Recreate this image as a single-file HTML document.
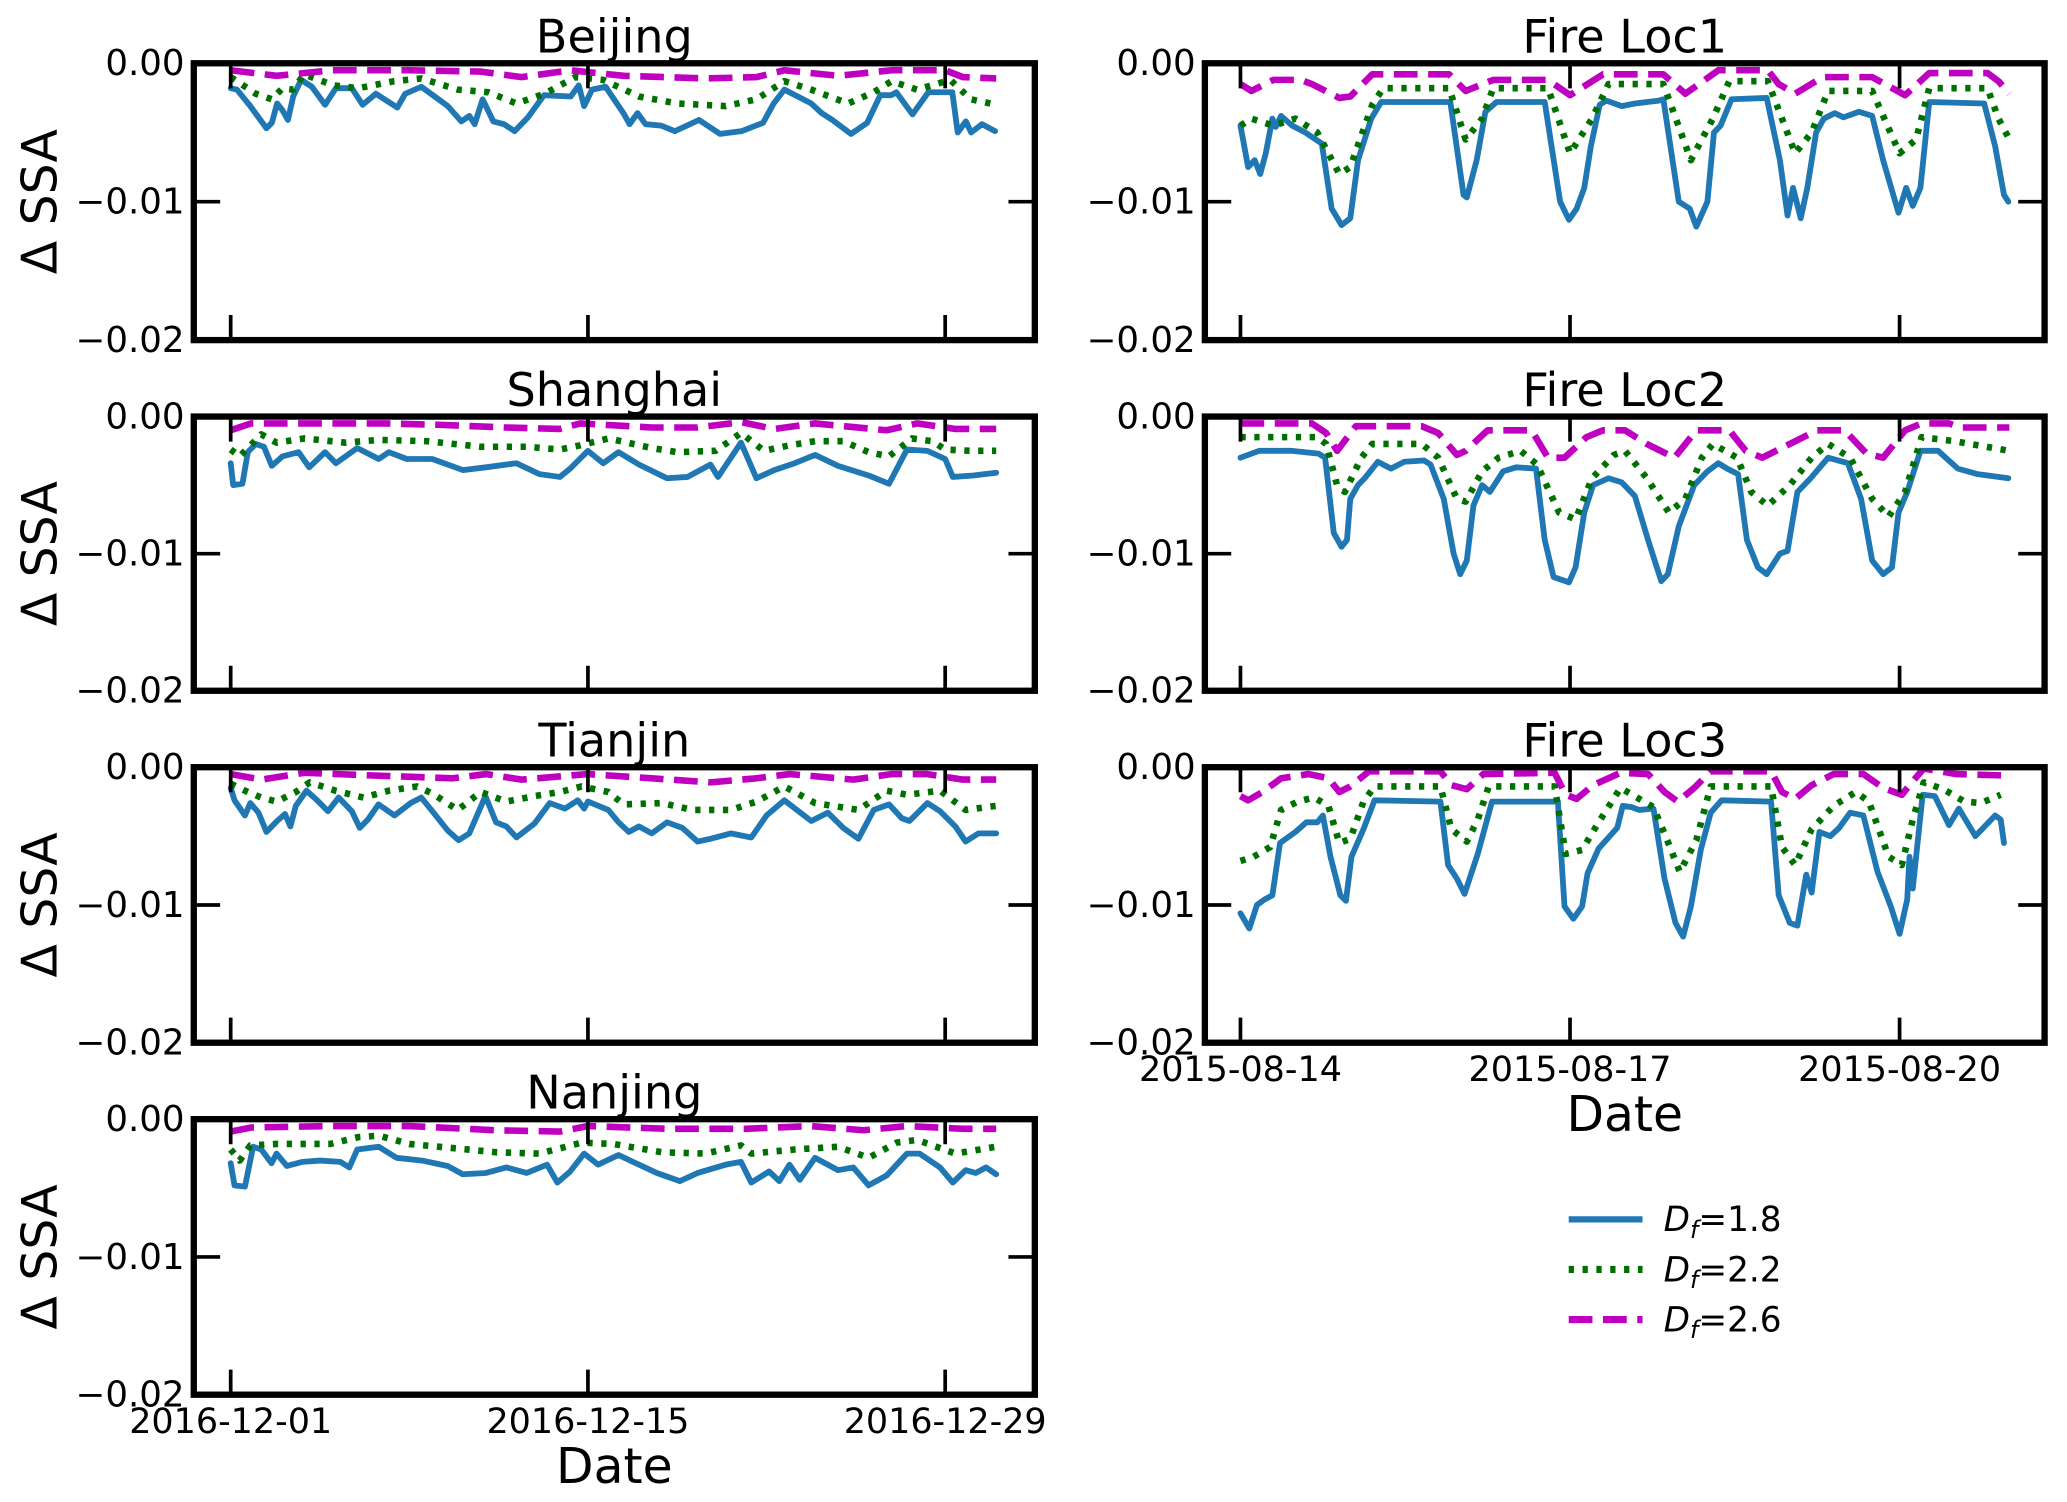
<!DOCTYPE html>
<html><head><meta charset="utf-8"><style>
html,body{margin:0;padding:0;background:#fff;}
svg{display:block;}
text{font-family:"DejaVu Sans","Liberation Sans",sans-serif;fill:#000;}
</style></head><body>
<svg id="fig" width="2067" height="1502" viewBox="0 0 1568 1139.4" preserveAspectRatio="none" xmlns="http://www.w3.org/2000/svg">
<rect width="1568" height="1139.4" fill="#fff"/>
</svg>
<script>
// ---- data (values in units of 1e-3 SSA; times in days from first tick) ----
const cityTicks = ["2016-12-01","2016-12-15","2016-12-29"];
const cityTickDays = [0,14,28];
const fireTicks = ["2015-08-14","2015-08-17","2015-08-20"];
const fireTickDays = [0,3,6];
const yTickLabels = ["0.00","\u22120.01","\u22120.02"];
const yTickValues = [0,-10,-20];
const seriesNames = ["D_f=1.8","D_f=2.2","D_f=2.6"];

const bjBlueT=[0,0.25,0.77,1.4,1.61,1.82,2.03,2.24,2.45,2.76,3.18,3.7,4.12,4.75,5.17,5.69,6.53,6.84,7.47,8.51,9.04,9.35,9.56,9.87,10.29,10.71,11.13,11.65,12.28,13.33,13.64,13.85,14.16,14.69,15.42,15.63,15.94,16.26,16.88,17.41,18.35,19.18,20.02,20.86,21.28,21.7,22.75,23.16,23.58,24.31,24.94,25.46,25.88,26.09,26.72,27.34,28.28,28.49,28.81,29.02,29.44,29.96];
const bjBlueV=[-1.8,-1.9,-3.1,-4.7,-4.3,-2.9,-3.4,-4.1,-2.4,-1.2,-1.7,-3.0,-1.8,-1.8,-3.0,-2.2,-3.2,-2.2,-1.7,-3.1,-4.2,-3.8,-4.4,-2.6,-4.2,-4.4,-4.9,-3.9,-2.3,-2.4,-1.6,-3.1,-1.9,-1.7,-3.7,-4.4,-3.6,-4.4,-4.5,-4.9,-4.1,-5.1,-4.9,-4.3,-2.9,-1.9,-2.9,-3.6,-4.1,-5.1,-4.3,-2.3,-2.3,-2.1,-3.7,-2.1,-2.1,-5.0,-4.2,-5.0,-4.4,-4.9];
const bjGreenT=[0,0.98,1.61,2.03,2.45,2.87,4.04,5.0,6.4,7.47,8.9,10.1,11.2,12.3,13.5,14.6,16.0,17.5,19.4,20.6,21.7,22.75,24.2,25.2,25.9,26.9,28.2,29.0,30.0];
const bjGreenV=[-1.0,-2.2,-2.6,-1.8,-1.9,-0.8,-1.6,-1.8,-1.3,-1.1,-1.9,-2.1,-2.9,-2.2,-1.0,-1.2,-2.4,-2.9,-3.1,-2.6,-1.3,-1.9,-2.9,-2.1,-1.3,-1.9,-1.2,-2.6,-3.0];
const bjMagT=[0,1.8,4.0,7.0,9.8,11.4,13.3,15.4,18.6,20.6,21.7,23.8,25.9,28.0,28.7,30.0];
const bjMagV=[-0.5,-0.9,-0.5,-0.5,-0.6,-1.0,-0.5,-0.9,-1.1,-1.0,-0.5,-0.9,-0.5,-0.5,-1.0,-1.1];

const shBlueT=[0,0.1,0.46,0.67,0.98,1.3,1.61,2.03,2.66,3.08,3.7,4.12,4.96,5.8,6.2,6.9,7.9,9.1,10.0,11.2,12.1,12.9,13.3,14.0,14.6,15.2,16.0,17.1,17.9,18.8,19.1,20.0,20.6,21.3,22.1,22.9,23.8,25.0,25.8,26.5,27.3,28.0,28.3,29.1,30.0];
const shBlueV=[-3.4,-5.0,-4.9,-2.6,-2.0,-2.2,-3.6,-2.9,-2.6,-3.7,-2.6,-3.4,-2.3,-3.1,-2.6,-3.1,-3.1,-3.9,-3.7,-3.4,-4.2,-4.4,-3.8,-2.5,-3.4,-2.6,-3.5,-4.5,-4.4,-3.5,-4.4,-1.9,-4.5,-3.9,-3.4,-2.8,-3.6,-4.3,-4.9,-2.4,-2.5,-3.1,-4.4,-4.3,-4.1];
const shGreenT=[0,0.35,1.2,1.8,2.9,4.5,5.8,7.7,9.8,11.6,12.9,13.7,14.8,16.5,17.5,19.0,20.0,20.9,21.9,22.9,24.0,25.0,25.8,26.7,27.5,28.0,29.0,30.0];
const shGreenV=[-2.4,-2.9,-1.3,-1.9,-1.6,-1.9,-1.7,-1.8,-2.2,-2.2,-2.4,-2.1,-1.6,-2.3,-2.6,-2.5,-1.2,-2.5,-2.1,-1.8,-1.8,-2.6,-2.9,-1.6,-1.8,-2.4,-2.5,-2.5];
const shMagT=[0,0.8,2.9,6.0,8.1,10.8,12.9,13.7,16.5,18.3,20.0,21.3,22.9,25.7,26.9,28.4,30.0];
const shMagV=[-1.0,-0.5,-0.5,-0.5,-0.6,-0.8,-0.9,-0.5,-0.8,-0.8,-0.4,-0.9,-0.5,-1.0,-0.5,-0.9,-0.9];

const tjBlueT=[0,0.15,0.56,0.77,1.09,1.4,1.82,2.13,2.34,2.55,2.97,3.39,3.81,4.23,4.75,5.06,5.38,5.79,6.42,7.05,7.47,7.99,8.51,8.93,9.35,9.98,10.4,10.8,11.2,11.9,12.5,13.1,13.6,13.85,14.0,14.8,15.2,15.6,16.0,16.5,17.1,17.7,18.3,18.8,19.6,20.4,21.0,21.7,22.75,23.4,24.0,24.6,25.2,25.8,26.3,26.6,27.3,27.8,28.4,28.8,29.3,30.0];
const tjBlueV=[-1.5,-2.4,-3.5,-2.6,-3.3,-4.7,-3.9,-3.4,-4.3,-2.8,-1.7,-2.4,-3.2,-2.2,-3.2,-4.4,-3.8,-2.7,-3.5,-2.6,-2.2,-3.4,-4.6,-5.3,-4.8,-2.1,-4.0,-4.3,-5.1,-4.1,-2.6,-3.0,-2.4,-3.0,-2.5,-3.1,-4.0,-4.7,-4.3,-4.8,-4.0,-4.4,-5.4,-5.2,-4.8,-5.1,-3.5,-2.4,-3.9,-3.3,-4.4,-5.2,-3.1,-2.7,-3.7,-3.9,-2.6,-3.2,-4.3,-5.4,-4.8,-4.8];
const tjGreenT=[0,0.56,1.2,1.8,2.55,3.1,4.1,5.2,6.2,7.3,7.9,8.9,9.8,10.8,11.9,12.9,13.75,14.8,15.4,16.9,18.1,19.6,20.6,21.7,22.9,24.6,25.7,26.5,27.8,28.8,30.0];
const tjGreenV=[-1.2,-1.7,-2.2,-2.5,-1.8,-1.1,-1.7,-2.2,-1.7,-1.4,-1.9,-3.1,-1.8,-2.5,-2.1,-1.8,-1.4,-1.8,-2.7,-2.6,-3.1,-3.1,-2.5,-1.4,-2.6,-3.1,-1.7,-2.0,-1.7,-3.1,-2.8];
const tjMagT=[0,1.2,2.9,5.6,8.7,10.0,11.4,14.0,16.5,18.8,20.6,21.9,24.4,25.9,27.3,28.7,30.0];
const tjMagV=[-0.5,-0.9,-0.4,-0.6,-0.8,-0.5,-0.9,-0.5,-0.8,-1.1,-0.8,-0.5,-0.9,-0.5,-0.5,-0.9,-0.9];

const njBlueT=[0,0.15,0.56,0.88,1.2,1.6,1.8,2.2,2.8,3.5,4.3,4.65,4.96,5.8,6.5,7.5,8.5,9.1,10.0,10.8,11.6,12.4,12.8,13.3,13.85,14.4,15.2,16.0,16.7,17.6,18.3,19.4,20.0,20.4,21.1,21.5,21.9,22.3,22.9,23.8,24.4,25.0,25.7,26.5,27.0,27.8,28.3,28.8,29.2,29.6,30.0];
const njBlueV=[-3.2,-4.8,-4.9,-2.0,-2.2,-3.2,-2.5,-3.4,-3.1,-3.0,-3.1,-3.5,-2.2,-2.0,-2.8,-3.0,-3.4,-4.0,-3.9,-3.5,-3.9,-3.3,-4.6,-3.8,-2.5,-3.3,-2.6,-3.3,-3.9,-4.5,-3.9,-3.3,-3.1,-4.6,-3.8,-4.5,-3.3,-4.4,-2.8,-3.7,-3.5,-4.8,-4.1,-2.5,-2.5,-3.5,-4.6,-3.7,-3.9,-3.5,-4.0];
const njGreenT=[0,0.35,0.77,1.8,3.9,5.0,5.8,7.0,8.7,10.4,12.1,13.75,15.0,16.9,18.6,20.0,20.4,22.1,23.8,25.0,26.1,26.9,28.4,30.0];
const njGreenV=[-2.2,-3.0,-1.9,-1.8,-1.8,-1.3,-1.2,-1.8,-2.1,-2.4,-2.5,-1.7,-1.8,-2.4,-2.5,-1.9,-2.5,-2.2,-2.0,-2.8,-1.7,-1.5,-2.5,-2.0];
const njMagT=[0,0.8,3.9,7.0,10.4,12.9,14.0,17.1,20.2,22.7,24.8,26.5,28.7,30.0];
const njMagV=[-0.9,-0.6,-0.5,-0.5,-0.8,-0.9,-0.5,-0.7,-0.7,-0.5,-0.8,-0.5,-0.7,-0.7];

const f1BlueT=[0,0.07,0.13,0.18,0.23,0.29,0.32,0.37,0.47,0.59,0.74,0.83,0.92,1.0,1.07,1.19,1.28,1.91,2.03,2.06,2.15,2.23,2.33,2.77,2.91,2.99,3.06,3.13,3.19,3.27,3.33,3.47,3.59,3.81,3.85,3.99,4.09,4.15,4.25,4.31,4.37,4.47,4.79,4.91,4.98,5.03,5.1,5.16,5.24,5.31,5.41,5.49,5.63,5.75,5.85,5.99,6.06,6.12,6.19,6.27,6.77,6.87,6.95,6.99];
const f1BlueV=[-4.5,-7.5,-7.0,-8.0,-6.5,-4.0,-4.6,-3.8,-4.5,-5.0,-5.8,-10.5,-11.7,-11.2,-7.0,-4.0,-2.8,-2.8,-9.5,-9.7,-7.0,-3.5,-2.8,-2.8,-10.0,-11.3,-10.5,-9.0,-6.0,-3.0,-2.7,-3.1,-2.9,-2.7,-2.6,-10.0,-10.5,-11.8,-10.0,-5.0,-4.5,-2.6,-2.5,-7.0,-11.0,-9.0,-11.2,-9.0,-5.0,-4.0,-3.6,-3.9,-3.5,-3.8,-7.0,-10.8,-9.0,-10.3,-9.0,-2.8,-2.9,-6.0,-9.5,-10.0];
const f1GreenT=[0,0.1,0.3,0.5,0.7,0.9,1.0,1.2,1.3,1.9,2.05,2.2,2.3,2.8,3.0,3.2,3.35,3.85,4.1,4.3,4.45,4.8,5.05,5.2,5.35,5.75,6.0,6.15,6.27,6.8,6.9,7.0];
const f1GreenV=[-4.5,-4.0,-4.5,-4.0,-5.0,-8.0,-7.5,-3.0,-1.8,-1.8,-5.5,-4.0,-1.8,-1.8,-6.5,-4.0,-1.5,-1.5,-7.0,-4.0,-1.3,-1.3,-6.5,-5.0,-2.0,-2.0,-6.5,-5.5,-1.8,-1.8,-4.0,-5.5];
const f1MagT=[0,0.1,0.3,0.55,0.65,0.9,1.0,1.2,1.9,2.05,2.3,2.8,3.0,3.3,3.85,4.05,4.35,4.8,4.9,5.05,5.3,5.75,6.05,6.27,6.8,6.9,7.0];
const f1MagV=[-1.5,-2.0,-1.2,-1.2,-1.5,-2.5,-2.4,-0.8,-0.8,-2.0,-1.2,-1.2,-2.3,-0.8,-0.8,-2.2,-0.5,-0.5,-1.5,-2.2,-1.0,-1.0,-2.3,-0.7,-0.7,-1.3,-2.2];

const f2BlueT=[0,0.17,0.47,0.71,0.77,0.85,0.92,0.97,1.0,1.07,1.13,1.25,1.37,1.49,1.67,1.73,1.85,1.94,2.0,2.06,2.12,2.2,2.27,2.39,2.51,2.69,2.77,2.85,2.99,3.05,3.13,3.21,3.35,3.47,3.59,3.71,3.83,3.89,3.99,4.13,4.25,4.35,4.43,4.53,4.61,4.71,4.79,4.91,4.98,5.07,5.19,5.35,5.53,5.65,5.75,5.85,5.93,5.99,6.07,6.19,6.35,6.53,6.71,6.99];
const f2BlueV=[-3.0,-2.5,-2.5,-2.7,-3.0,-8.5,-9.5,-9.0,-6.0,-5.0,-4.5,-3.3,-3.8,-3.3,-3.2,-3.5,-6.0,-10.0,-11.5,-10.5,-6.5,-5.0,-5.5,-4.0,-3.7,-3.8,-9.0,-11.7,-12.1,-11.0,-7.0,-5.0,-4.5,-4.8,-5.8,-9.0,-12.0,-11.5,-8.0,-5.0,-4.0,-3.4,-3.8,-4.2,-9.0,-11.0,-11.5,-10.0,-9.8,-5.5,-4.5,-3.0,-3.4,-6.0,-10.5,-11.5,-11.0,-7.0,-5.5,-2.5,-2.5,-3.8,-4.2,-4.5];
const f2GreenT=[0,0.7,0.78,0.88,0.95,1.1,1.2,1.65,1.8,1.97,2.05,2.2,2.35,2.55,2.7,2.9,3.05,3.2,3.4,3.5,3.7,3.9,4.05,4.2,4.3,4.52,4.65,4.8,5.0,5.2,5.35,5.55,5.75,5.9,6.05,6.2,6.5,7.0];
const f2GreenV=[-1.5,-1.5,-2.0,-5.0,-5.5,-3.0,-2.0,-2.0,-3.0,-6.0,-6.2,-4.0,-3.0,-2.5,-3.5,-7.0,-7.5,-4.5,-2.8,-2.5,-4.5,-7.0,-6.0,-3.0,-2.0,-3.0,-5.5,-6.5,-5.0,-3.0,-2.0,-3.0,-6.0,-7.3,-5.5,-1.5,-1.8,-2.5];
const f2MagT=[0,0.65,0.78,0.88,1.05,1.65,1.8,1.97,2.05,2.25,2.65,2.8,2.95,3.15,3.3,3.5,3.7,3.95,4.15,4.45,4.6,4.75,5.0,5.25,5.5,5.7,5.85,6.05,6.2,6.45,6.55,7.0];
const f2MagV=[-0.5,-0.5,-1.2,-2.5,-0.7,-0.7,-1.2,-2.8,-2.5,-1.0,-1.0,-3.0,-3.0,-1.5,-1.0,-1.0,-2.0,-3.0,-1.0,-1.0,-2.5,-3.0,-2.0,-1.0,-1.0,-2.7,-3.0,-1.0,-0.5,-0.5,-0.8,-0.8];

const f3BlueT=[0,0.08,0.15,0.22,0.29,0.36,0.5,0.6,0.7,0.75,0.82,0.91,0.96,1.01,1.12,1.22,1.82,1.89,1.97,2.04,2.16,2.29,2.89,2.95,3.03,3.11,3.16,3.26,3.43,3.48,3.56,3.63,3.76,3.86,3.96,4.03,4.1,4.19,4.28,4.38,4.83,4.9,5.0,5.07,5.15,5.2,5.27,5.37,5.45,5.55,5.67,5.8,5.92,6.0,6.07,6.09,6.12,6.21,6.32,6.45,6.54,6.69,6.87,6.92,6.95];
const f3BlueV=[-10.6,-11.7,-10.0,-9.6,-9.3,-5.5,-4.7,-4.0,-4.0,-3.5,-6.5,-9.3,-9.7,-6.5,-4.5,-2.4,-2.5,-7.1,-8.1,-9.2,-6.3,-2.5,-2.5,-10.1,-11.0,-10.1,-7.7,-5.9,-4.4,-2.8,-2.9,-3.1,-3.0,-8.1,-11.3,-12.3,-10.1,-6.0,-3.3,-2.4,-2.5,-9.3,-11.3,-11.5,-7.8,-9.1,-4.7,-5.0,-4.4,-3.3,-3.5,-7.6,-10.1,-12.1,-9.6,-6.5,-8.8,-2.0,-2.1,-4.2,-3.0,-5.0,-3.5,-3.8,-5.5];
const f3GreenT=[0,0.12,0.27,0.37,0.52,0.67,0.8,0.9,1.0,1.12,1.22,1.82,1.92,2.06,2.16,2.26,2.86,2.96,3.11,3.26,3.46,3.76,3.88,4.0,4.15,4.28,4.83,4.93,5.05,5.2,5.4,5.6,5.72,5.9,6.02,6.12,6.22,6.4,6.59,6.74,6.92];
const f3GreenV=[-6.8,-6.5,-5.8,-3.1,-2.5,-2.2,-2.8,-5.5,-5.2,-2.5,-1.4,-1.4,-4.5,-5.4,-3.8,-1.4,-1.4,-6.3,-6.0,-4.0,-1.5,-2.9,-5.2,-7.6,-5.3,-1.4,-1.4,-5.8,-7.1,-4.5,-2.8,-1.8,-2.5,-6.5,-7.1,-3.8,-1.1,-1.6,-2.5,-2.6,-2.0];
const f3MagT=[0,0.07,0.2,0.37,0.62,0.8,0.9,1.0,1.17,1.82,1.92,2.06,2.21,2.86,2.96,3.06,3.21,3.46,3.71,3.86,3.98,4.13,4.28,4.83,4.93,5.05,5.2,5.4,5.67,5.85,6.02,6.09,6.22,6.52,6.97];
const f3MagV=[-2.1,-2.4,-1.8,-0.8,-0.5,-0.8,-1.8,-1.4,-0.3,-0.3,-1.3,-1.6,-0.5,-0.4,-2.0,-2.3,-1.3,-0.4,-0.5,-1.8,-2.5,-1.5,-0.3,-0.3,-1.8,-2.3,-1.3,-0.5,-0.5,-1.5,-2.0,-1.3,-0.1,-0.5,-0.6];

// ---- drawing ----
const NS="http://www.w3.org/2000/svg";
const svg=document.getElementById('fig');
function mk(tag,attrs,parent){const e=document.createElementNS(NS,tag);for(const k in attrs)e.setAttribute(k,attrs[k]);(parent||svg).appendChild(e);return e;}
const STYLES=[{stroke:"#1f77b4",w:4.4,dash:null,cap:"round"},{stroke:"#007000",w:5,dash:"4,6.5",cap:"butt"},{stroke:"#c000c0",w:5,dash:"18,8",cap:"butt"}];

const panels=[
 {key:"beijing",title:"Beijing",x0:147,x1:785,y0:48,y1:258,kind:"city",xlab:false,ylab:true,s:[[bjBlueT,bjBlueV],[bjGreenT,bjGreenV],[bjMagT,bjMagV]]},
 {key:"shanghai",title:"Shanghai",x0:147,x1:785,y0:316,y1:524,kind:"city",xlab:false,ylab:true,s:[[shBlueT,shBlueV],[shGreenT,shGreenV],[shMagT,shMagV]]},
 {key:"tianjin",title:"Tianjin",x0:147,x1:785,y0:582,y1:791,kind:"city",xlab:false,ylab:true,s:[[tjBlueT,tjBlueV],[tjGreenT,tjGreenV],[tjMagT,tjMagV]]},
 {key:"nanjing",title:"Nanjing",x0:147,x1:785,y0:849,y1:1058,kind:"city",xlab:true,ylab:true,s:[[njBlueT,njBlueV],[njGreenT,njGreenV],[njMagT,njMagV]]},
 {key:"fire-loc1",title:"Fire Loc1",x0:914,x1:1551,y0:48,y1:258,kind:"fire",xlab:false,ylab:false,s:[[f1BlueT,f1BlueV],[f1GreenT,f1GreenV],[f1MagT,f1MagV]]},
 {key:"fire-loc2",title:"Fire Loc2",x0:914,x1:1551,y0:316,y1:524,kind:"fire",xlab:false,ylab:false,s:[[f2BlueT,f2BlueV],[f2GreenT,f2GreenV],[f2MagT,f2MagV]]},
 {key:"fire-loc3",title:"Fire Loc3",x0:914,x1:1551,y0:582,y1:791,kind:"fire",xlab:true,ylab:false,s:[[f3BlueT,f3BlueV],[f3GreenT,f3GreenV],[f3MagT,f3MagV]]}
];

panels.forEach(p=>{
  const g=mk('g',{});
  
  
  const isCity=p.kind==="city";
  const pxPerDay=isCity?(717-175)/28:(1441-941)/6;
  const xs=d=>(isCity?175:941)+d*pxPerDay;
  const ys=v=>p.y0+(v/-20)*(p.y1-p.y0);
  p.s.forEach((ser,i)=>{
    const T=ser[0],V=ser[1];
    let d="";
    for(let k=0;k<T.length;k++){d+=(k?"L":"M")+xs(T[k]).toFixed(1)+","+ys(V[k]).toFixed(1);}
    const st=STYLES[i];
    const path=mk('path',{d:d,fill:"none",stroke:st.stroke,"stroke-width":st.w,"stroke-linejoin":"round","stroke-linecap":st.cap},g);
    if(st.dash)path.setAttribute('stroke-dasharray',st.dash);
    
    
  });
  const ticks=isCity?cityTickDays:fireTickDays;
  const tl=isCity?cityTicks:fireTicks;
  ticks.forEach((t,i)=>{
    const x=xs(t);
    const tk=mk('path',{d:`M${x},${p.y1}v-19M${x},${p.y0}v19`,stroke:"#000","stroke-width":2.8},g);
    
    
    if(p.xlab){
      const tx=mk('text',{x:x,y:p.y1+29,"text-anchor":"middle","font-size":26.5},g);
      tx.textContent=tl[i];
      
      
    }
  });
  yTickValues.forEach((v,i)=>{
    const y=ys(v);
    const tk=mk('path',{d:`M${p.x0},${y}h20M${p.x1},${y}h-20`,stroke:"#000","stroke-width":2.8},g);
    
    
    const tx=mk('text',{x:p.x0-7,y:y+9,"text-anchor":"end","font-size":27},g);
    tx.textContent=yTickLabels[i];
    
    
  });
  const frame=mk('rect',{x:p.x0,y:p.y0,width:p.x1-p.x0,height:p.y1-p.y0,fill:"none",stroke:"#000","stroke-width":4.8},g);
  
  
  const ti=mk('text',{x:(p.x0+p.x1)/2,y:p.y0-8,"text-anchor":"middle","font-size":35},g);
  ti.textContent=p.title;
  
  
  if(p.ylab){
    const cy=(p.y0+p.y1)/2;
    const yl=mk('text',{x:0,y:0,"text-anchor":"middle","font-size":37,transform:`translate(43,${cy}) rotate(-90)`},g);
    yl.textContent="\u0394 SSA";
    
    
  }
  if(p.xlab){
    const xl=mk('text',{x:(p.x0+p.x1)/2,y:p.y1+67,"text-anchor":"middle","font-size":37},g);
    xl.textContent="Date";
    
    
  }
});

const lg=mk('g',{});


const legY=[925,963,1001];
seriesNames.forEach((n,i)=>{
  const st=STYLES[i];
  const ln=mk('path',{d:`M1190,${legY[i]}h56`,stroke:st.stroke,"stroke-width":st.w+0.4,fill:"none"},lg);
  if(st.dash)ln.setAttribute('stroke-dasharray',st.dash);
  
  
  const tx=mk('text',{x:1262,y:legY[i]+9,"font-size":26},lg);
  
  
  const parts=n.split('=');
  const t1=mk('tspan',{"font-style":"italic"},tx);t1.textContent="D";
  const t2=mk('tspan',{"font-style":"italic","font-size":18,dy:5},tx);t2.textContent="f";
  const t3=mk('tspan',{dy:-5},tx);t3.textContent="="+parts[1];
});
</script>
</body></html>
